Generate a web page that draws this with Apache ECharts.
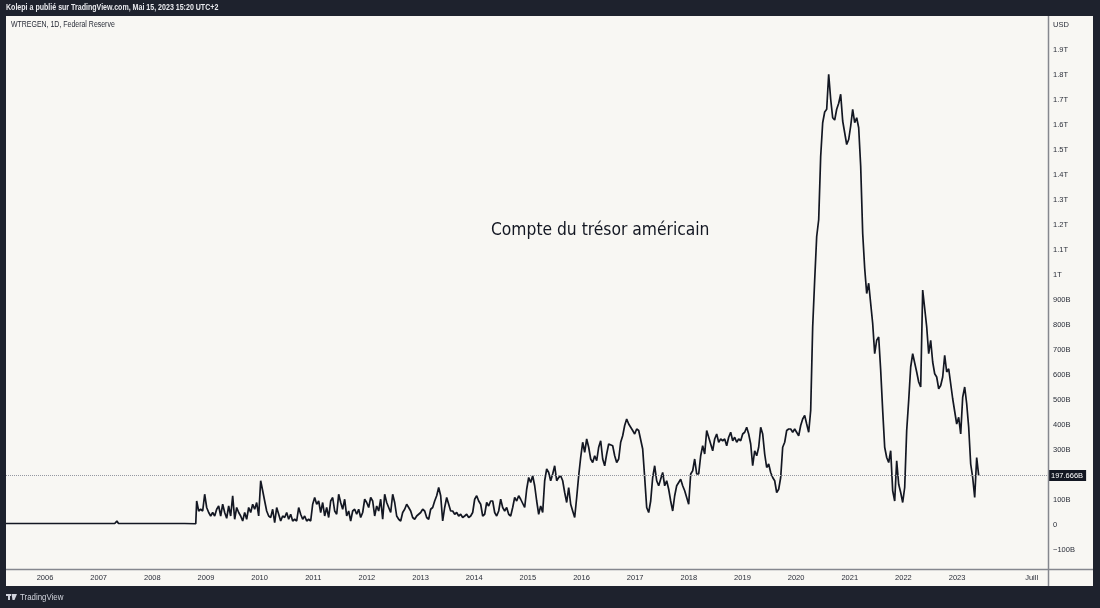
<!DOCTYPE html>
<html>
<head>
<meta charset="utf-8">
<title>Compte du trésor américain</title>
<script src="https://cdn.jsdelivr.net/npm/echarts@6/dist/echarts.min.js"></script>
<style>
  html, body { margin: 0; padding: 0; background: #1e222d; }
  #chart { width: 1100px; height: 608px; }
</style>
</head>
<body>
<div id="chart"></div>
<script>
// Treasury General Account (WTREGEN), billions of USD, x in decimal years

// before the 2008 crisis the account is flat
const preDates = [2005.273, 2005.8, 2006.4, 2006.9, 2007.3, 2007.34, 2007.37, 2007.8, 2008.3, 2008.6, 2008.81];
const preValues = [6, 6, 6, 6, 6, 16, 6, 6, 6, 6, 5];

// from Oct 2008 on, one reading every ~13.6 days
const sampleStart = 2008.827;
const sampleStep = 0.037279;

const tga2008to2014 = [
  96, 56, 63, 56, 123, 70, 50, 36, 50, 36,
  63, 76, 36, 83, 50, 27, 76, 36, 117, 23,
  70, 50, 36, 16, 50, 23, 70, 50, 83, 63,
  90, 36, 177, 137, 96, 56, 36, 30, 63, 9,
  70, 43, 16, 36, 30, 50, 23, 43, 16, 23,
  16, 70, 43, 23, 36, 16, 23, 16, 83, 110,
  83, 96, 50, 90, 36, 70, 30, 96, 110, 56,
  43, 123, 90, 63, 103, 36, 56, 16, 56, 63,
  43, 63, 30, 50, 103, 90, 70, 110, 96, 36,
  76, 56, 103, 23, 123, 90, 70, 50, 123, 90,
  36, 23, 16, 50, 63, 83, 70, 56, 30, 23,
  36, 43, 50, 63, 56, 30, 23, 63, 70, 96,
  117, 150, 117, 16, 70, 110, 83, 56, 56, 43,
  50, 36, 43, 30, 36, 43, 30, 36, 50, 103,
  117, 96
];

const tga2014to2020 = [
  83, 36, 43, 90, 76, 96, 96, 50, 36, 56,
  103, 70, 56, 70, 43, 36, 70, 110, 96, 117,
  103, 96, 70, 143, 190, 170, 197, 157, 96, 43,
  76, 50, 177, 224, 210, 177, 204, 237, 177, 190,
  197, 177, 130, 90, 150, 83, 56, 30, 110, 197,
  270, 331, 291, 344, 311, 264, 250, 277, 257, 311,
  337, 264, 237, 284, 324, 324, 317, 277, 250, 264,
  331, 357, 398, 424, 404, 391, 378, 364, 384, 378,
  371, 304, 190, 70, 50, 96, 190, 237, 177, 157,
  163, 210, 157, 177, 143, 96, 56, 117, 157, 170,
  183, 157, 137, 110, 83, 204, 217, 264, 204, 204,
  277, 317, 284, 378, 351, 324, 297, 344, 364, 331,
  344, 337, 344, 317, 351, 371, 337, 351, 331, 344,
  337, 364, 371, 391, 364, 324, 237, 297, 277, 311,
  391, 364, 284, 230, 244, 210, 190, 177, 130, 143,
  190, 311, 331, 378, 384
];

const tga2020to2021 = [
  384, 371, 384, 378, 357, 398, 424, 438, 404, 371,
  458, 793, 980, 1154, 1221, 1475, 1609, 1652, 1663, 1803,
  1703, 1629, 1620, 1663, 1687, 1723, 1616, 1569, 1522, 1542,
  1596, 1663, 1609, 1629, 1589, 1435, 1167, 1027, 926, 967,
  886, 806, 685, 739, 752, 619, 458, 311, 270
];

const tga2021to2023 = [
  250, 297, 137, 96, 257, 163, 130, 90, 150, 378,
  498, 632, 685, 692, 612, 572, 552, 940, 933, 793,
  685, 739, 652, 605, 592, 545, 558, 592, 679, 612,
  625, 565, 505, 498, 404, 431, 364, 511, 552, 485,
  391, 244, 190, 110, 270, 197.666
];

const lastValue = 197.666;

const yearTicks = [2006, 2007, 2008, 2009, 2010, 2011, 2012, 2013, 2014, 2015,
  2016, 2017, 2018, 2019, 2020, 2021, 2022, 2023, 2024.39];
const valueTicks = [-100, 0, 100, 200, 300, 400, 500, 600, 700, 800, 900,
  1000, 1100, 1200, 1300, 1400, 1500, 1600, 1700, 1800, 1900];

const small = "'Liberation Sans', Arial, sans-serif";

const sampled = tga2008to2014.concat(tga2014to2020, tga2020to2021, tga2021to2023);
const seriesData = preDates
  .map((d, i) => [d, preValues[i]])
  .concat(sampled.map((v, i) => [sampleStart + i * sampleStep, v]));

const chart = echarts.init(document.getElementById("chart"));

chart.setOption({
  backgroundColor: "#1e222d",
  animation: false,
  grid: { left: 6, right: 52, top: 16, bottom: 39 },
  xAxis: {
    type: "value",
    min: 2005.273,
    max: 2024.695,
    splitLine: { show: false },
    axisLine: { show: false },
    axisTick: { show: false },
    axisLabel: {
      customValues: yearTicks,
      margin: 5,
      fontFamily: small,
      fontSize: 7.5,
      color: "#2a2e39",
      formatter: (v) => (v > 2024 ? "Juill" : String(v)),
    },
  },
  yAxis: {
    type: "value",
    position: "right",
    min: -176,
    max: 2036,
    splitLine: { show: false },
    axisLine: { show: false },
    axisTick: { show: false },
    axisLabel: {
      customValues: valueTicks,
      margin: 5,
      fontFamily: small,
      fontSize: 7.5,
      color: "#2a2e39",
      formatter: function (v) {
        if (v === 0) return "0";
        if (v < 0) return "\u2212" + -v + "B";
        if (v >= 1000) return v / 1000 + "T";
        return v + "B";
      },
    },
  },
  graphic: {
    elements: [
      { type: "rect", z: -10, shape: { x: 6, y: 16, width: 1087, height: 570 }, style: { fill: "#f8f7f3" } },
      { type: "line", z: 10, shape: { x1: 1048.5, y1: 16, x2: 1048.5, y2: 586 }, style: { stroke: "#85878e", lineWidth: 1.5 } },
      { type: "line", z: 10, shape: { x1: 6, y1: 569.5, x2: 1093, y2: 569.5 }, style: { stroke: "#85878e", lineWidth: 1.5 } },
      {
        type: "text", x: 6, y: 3, scaleX: 0.83,
        style: { text: "Kolepi a publié sur TradingView.com, Mai 15, 2023 15:20 UTC+2", fill: "#e9eaee", font: "bold 8.5px " + small },
      },
      {
        type: "text", x: 11, y: 20, scaleX: 0.82,
        style: { text: "WTREGEN, 1D, Federal Reserve", fill: "#2a2e39", font: "8.5px " + small },
      },
      {
        type: "text", x: 1053, y: 21,
        style: { text: "USD", fill: "#2a2e39", font: "7.5px " + small },
      },
      {
        type: "text", x: 491, y: 222,
        style: { text: "Compte du trésor américain", fill: "#131722", font: "17.3px 'DejaVu Sans Condensed', 'Noto Sans', sans-serif" },
      },
      // TradingView logo
      { type: "rect", shape: { x: 6, y: 594, width: 5, height: 2 }, style: { fill: "#d1d4dc" } },
      { type: "rect", shape: { x: 8, y: 594, width: 2, height: 6 }, style: { fill: "#d1d4dc" } },
      { type: "polygon", shape: { points: [[11.5, 594], [17, 594], [14.5, 600], [12.5, 600]] }, style: { fill: "#d1d4dc" } },
      {
        type: "text", x: 20, y: 592, scaleX: 0.83,
        style: { text: "TradingView", fill: "#d1d4dc", font: "9.5px " + small },
      },
    ],
  },
  series: [
    {
      type: "line",
      data: seriesData,
      showSymbol: false,
      smooth: false,
      lineStyle: { color: "#131722", width: 1.7 },
      markLine: {
        silent: true,
        symbol: "none",
        lineStyle: { type: "dotted", color: "#9598a1", width: 1 },
        label: {
          position: "end",
          distance: 0,
          formatter: () => lastValue + "B",
          backgroundColor: "#131722",
          color: "#ffffff",
          fontFamily: small,
          fontSize: 7.5,
          padding: [2, 3, 1, 3],
        },
        data: [{ yAxis: lastValue }],
      },
    },
  ],
});
</script>
</body>
</html>
